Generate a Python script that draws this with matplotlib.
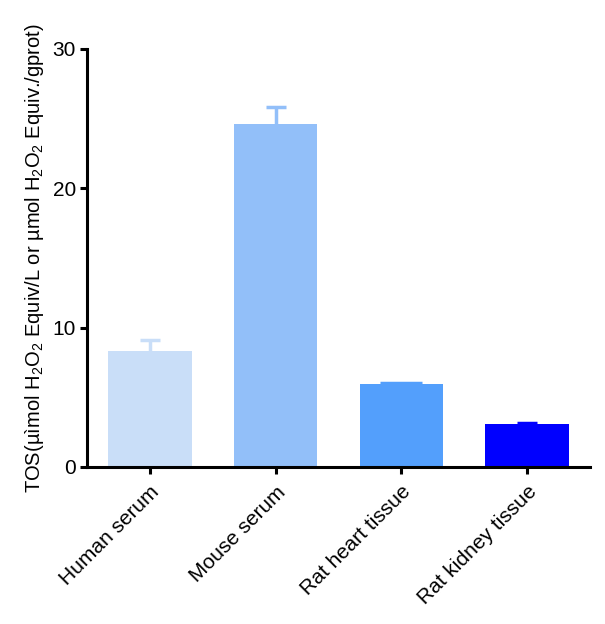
import matplotlib
matplotlib.use("Agg")
import matplotlib.pyplot as plt

categories = ["Human serum", "Mouse serum", "Rat heart tissue", "Rat kidney tissue"]
means = [8.33, 24.62, 5.96, 3.09]
errors = [0.75, 1.2, 0.08, 0.04]
colors = ["#C9DEF8", "#92BFF9", "#539FFC", "#0000FF"]
capsizes = [7.5, 7.5, 14.8, 7.5]

plt.rcParams["font.family"] = ["Liberation Sans", "DejaVu Sans"]
plt.rcParams["mathtext.fontset"] = "custom"
plt.rcParams["mathtext.rm"] = "Liberation Sans"
plt.rcParams["mathtext.it"] = "Liberation Sans:italic"

fig = plt.figure(figsize=(6.05, 6.24), dpi=100)
ax = fig.add_axes([87 / 605, 157 / 624, 503 / 605, 418 / 624])

x = list(range(len(categories)))
for i in x:
    ax.bar(i, means[i], width=0.665, color=colors[i], zorder=2)
    eb = ax.errorbar(i, means[i], yerr=[[0], [errors[i]]], fmt="none",
                     ecolor=colors[i], elinewidth=2.5, capsize=capsizes[i],
                     capthick=2.5, zorder=1)
    # only keep the upper cap
    for cap in eb[1]:
        if cap.get_ydata()[0] <= means[i]:
            cap.set_visible(False)

ax.set_xlim(-0.5, 3.5)
ax.set_ylim(0, 30)
ax.set_yticks([0, 10, 20, 30])
ax.set_xticks(x)
ax.set_xticklabels(categories, rotation=45, ha="right", rotation_mode="anchor")

for s in ["top", "right"]:
    ax.spines[s].set_visible(False)
for s in ["left", "bottom"]:
    ax.spines[s].set_linewidth(2.2)
ax.tick_params(axis="both", width=2.2, length=5, labelsize=15, pad=3)
ax.tick_params(axis="x", pad=6)

ax.set_ylabel("TOS(µìmol H$_2$O$_2$ Equiv/L or µmol H$_2$O$_2$ Equiv./gprot)",
              fontsize=14.5, labelpad=5)

fig.savefig("out.png", dpi=100)
